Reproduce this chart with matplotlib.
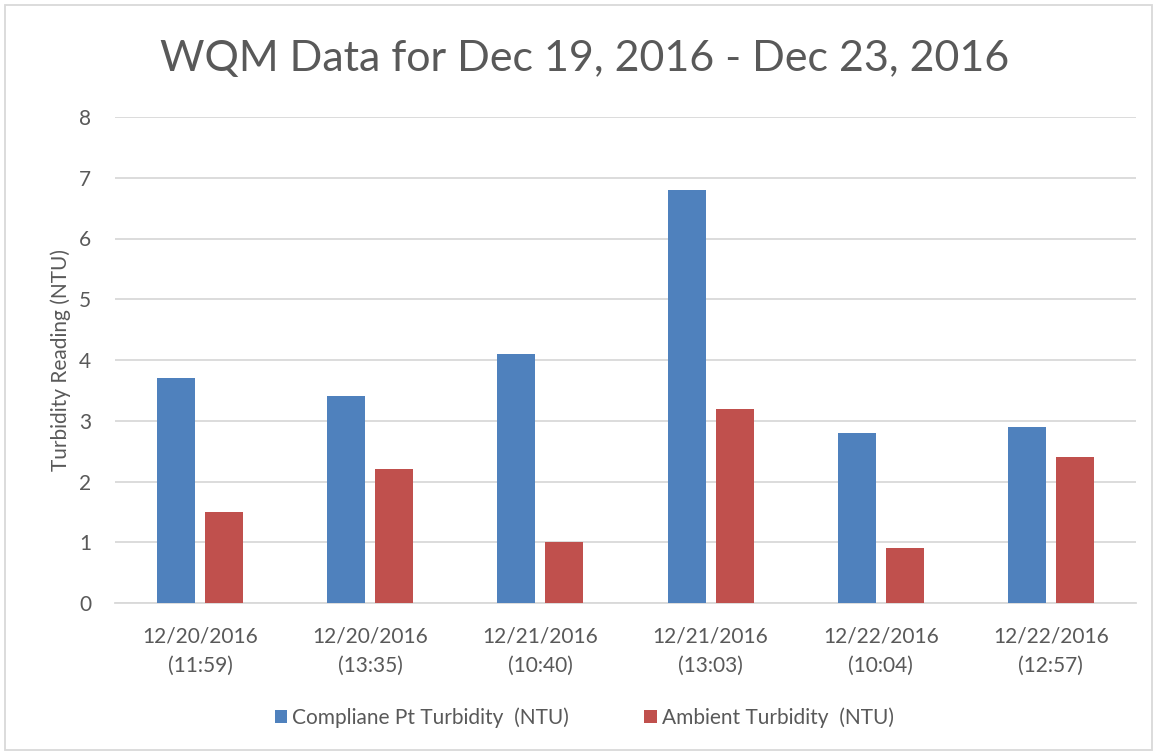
import matplotlib.pyplot as plt
import numpy as np
from matplotlib.patches import Rectangle

plt.rcParams['font.family'] = ['Lato', 'DejaVu Sans']

categories = ['12/20/2016\n(11:59)', '12/20/2016\n(13:35)', '12/21/2016\n(10:40)',
              '12/21/2016\n(13:03)', '12/22/2016\n(10:04)', '12/22/2016\n(12:57)']
compliance = [3.7, 3.4, 4.1, 6.8, 2.8, 2.9]
ambient = [1.5, 2.2, 1.0, 3.2, 0.9, 2.4]
yticks = [0, 1, 2, 3, 4, 5, 6, 7, 8]

text_color = '#595959'
blue = '#4F81BD'
red = '#C0504D'

fig = plt.figure(figsize=(11.57, 7.55), dpi=100)
ax = fig.add_axes([115 / 1157, 152 / 755, 1021 / 1157, 486 / 755])

x = np.arange(len(categories))
w = 0.223
ax.bar(x - 0.141, compliance, w, color=blue, label='Compliane Pt Turbidity  (NTU)', zorder=3)
ax.bar(x + 0.141, ambient, w, color=red, label='Ambient Turbidity  (NTU)', zorder=3)

ax.set_xlim(-0.5, len(categories) - 0.5)
ax.set_ylim(0, 8)
ax.set_yticks(yticks)
ax.set_xticks(x)
ax.set_xticklabels(categories, fontsize=15, color=text_color, linespacing=1.55)
ax.tick_params(axis='y', labelsize=15, labelcolor=text_color, length=0, pad=17)
ax.tick_params(axis='x', length=0, pad=17)
ax.grid(axis='y', color='#D9D9D9', linewidth=1.3, zorder=0)
for s in ['top', 'right', 'left']:
    ax.spines[s].set_visible(False)
ax.spines['bottom'].set_color('#D9D9D9')
ax.spines['bottom'].set_linewidth(1.3)

ax.set_ylabel('Turbidity Reading (NTU)', fontsize=15, color=text_color, labelpad=6)
fig.text(0.505, 0.922, 'WQM Data for Dec 19, 2016 - Dec 23, 2016', fontsize=31,
         color=text_color, ha='center', va='center')

fig.legend(loc='center', bbox_to_anchor=(0.505, 0.05), ncol=2, frameon=False,
           fontsize=15, labelcolor=text_color, handlelength=0.6, handleheight=0.6,
           handletextpad=0.25, columnspacing=3.6)

fig.patches.append(Rectangle((5 / 1157, 5 / 755), 1147 / 1157, 745 / 755, transform=fig.transFigure,
                             fill=False, edgecolor='#D9D9D9', linewidth=1.3))

fig.savefig('out.png', dpi=100)
